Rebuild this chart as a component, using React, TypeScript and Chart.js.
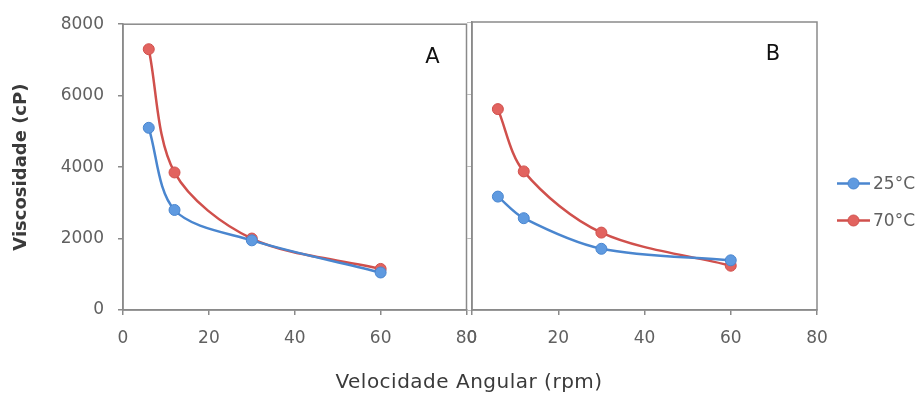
import React, { useEffect, useRef } from "react";
import { Chart, registerables } from "chart.js";

Chart.register(...registerables);

const rpm = [6, 12, 30, 60];
const seriesLabels = ["25°C", "70°C"];
const panelA25 = [5100, 2800, 1950, 1050];
const panelA70 = [7300, 3850, 2000, 1150];
const panelB25 = [3150, 2550, 1700, 1380];
const panelB70 = [5580, 3850, 2150, 1230];
const xTicks = [0, 20, 40, 60, 80];
const yTicks = [0, 2000, 4000, 6000, 8000];
const panelNames = ["A", "B"];

const FONT = "'DejaVu Sans', sans-serif";
const AXIS = "#8a8a8a";
const TICKTXT = "#606060";
const BLUE = "#4a86cf";
const BLUE_FILL = "#5f9ae0";
const RED = "#d0504c";
const RED_FILL = "#e2635f";

const W = 920;
const H = 396;

const makeDatasets = (v25: number[], v70: number[]) => [
  {
    label: seriesLabels[0],
    data: rpm.map((x, i) => ({ x, y: v25[i] })),
    borderColor: BLUE,
    backgroundColor: BLUE_FILL,
    pointBackgroundColor: BLUE_FILL,
    pointBorderColor: BLUE,
    pointBorderWidth: 1,
    pointRadius: 5.5,
    borderWidth: 2.5,
    tension: 0.32,
    showLine: true,
  },
  {
    label: seriesLabels[1],
    data: rpm.map((x, i) => ({ x, y: v70[i] })),
    borderColor: RED,
    backgroundColor: RED_FILL,
    pointBackgroundColor: RED_FILL,
    pointBorderColor: RED,
    pointBorderWidth: 1,
    pointRadius: 5.5,
    borderWidth: 2.5,
    tension: 0.32,
    showLine: true,
  },
];

const framePlugin = (letter: string, dx: number) => ({
  id: "frame" + letter,
  afterDraw(chart: any) {
    const { ctx, chartArea: a } = chart;
    ctx.save();
    ctx.strokeStyle = AXIS;
    ctx.lineWidth = 1.5;
    ctx.strokeRect(a.left, a.top, a.right - a.left, a.bottom - a.top);
    ctx.fillStyle = "#111";
    ctx.font = `21px ${FONT}`;
    ctx.textAlign = "center";
    ctx.textBaseline = "middle";
    ctx.fillText(letter, a.right - dx, a.top + 33);
    ctx.restore();
  },
});

const legendPlugin = {
  id: "sideLegend",
  afterDraw(chart: any) {
    const { ctx, chartArea: a } = chart;
    const x0 = a.right + 20;
    const midY = (a.top + a.bottom) / 2 + 36;
    ctx.save();
    chart.data.datasets.forEach((ds: any, i: number) => {
      const y = midY + (i - 0.5) * 37;
      ctx.strokeStyle = ds.borderColor;
      ctx.lineWidth = 2.5;
      ctx.beginPath();
      ctx.moveTo(x0, y);
      ctx.lineTo(x0 + 33, y);
      ctx.stroke();
      ctx.beginPath();
      ctx.arc(x0 + 16.5, y, 5.5, 0, Math.PI * 2);
      ctx.fillStyle = ds.pointBackgroundColor;
      ctx.fill();
      ctx.lineWidth = 1;
      ctx.strokeStyle = ds.pointBorderColor;
      ctx.stroke();
      ctx.fillStyle = TICKTXT;
      ctx.font = `17px ${FONT}`;
      ctx.textAlign = "left";
      ctx.textBaseline = "middle";
      ctx.fillText(ds.label, x0 + 36, y + 1);
    });
    ctx.restore();
  },
};

const plainNum = (v: any) => String(v);

const xScale = () => ({
  type: "linear",
  min: 0,
  max: 80,
  afterBuildTicks: (s: any) => {
    s.ticks = xTicks.map((v) => ({ value: v }));
  },
  ticks: { color: TICKTXT, font: { family: FONT, size: 17 }, padding: 13, callback: plainNum },
  grid: { display: true, drawOnChartArea: false, drawTicks: true, tickLength: 5, color: AXIS, lineWidth: 1.5 },
  border: { display: true, color: AXIS, width: 1.5 },
  afterFit: (s: any) => {
    s.height = H - 310;
  },
});

export default function App() {
  const refA = useRef<HTMLCanvasElement>(null);
  const refB = useRef<HTMLCanvasElement>(null);

  useEffect(() => {
    const chartA = new Chart(refA.current as HTMLCanvasElement, {
      type: "scatter",
      data: { datasets: makeDatasets(panelA25, panelA70) as any },
      options: {
        animation: false,
        responsive: false,
        maintainAspectRatio: false,
        layout: { padding: { left: 0, top: 22, right: W - 466.5, bottom: 0 } },
        plugins: { legend: { display: false }, tooltip: { enabled: false } },
        scales: {
          x: xScale() as any,
          y: {
            type: "linear",
            min: 0,
            max: 8000,
            afterBuildTicks: (s: any) => {
              s.ticks = yTicks.map((v) => ({ value: v }));
            },
            ticks: { color: TICKTXT, font: { family: FONT, size: 17 }, padding: 14, callback: plainNum },
            grid: { display: true, drawOnChartArea: false, drawTicks: true, tickLength: 5, color: AXIS, lineWidth: 1.5 },
            border: { display: true, color: AXIS, width: 1.5 },
            title: {
              display: true,
              text: "Viscosidade (cP)",
              color: "#3a3a3a",
              font: { family: FONT, size: 18, weight: "bold" },
              padding: { top: 11, bottom: 0 },
            },
            afterFit: (s: any) => {
              s.width = 123;
            },
          } as any,
        },
      },
      plugins: [framePlugin(panelNames[0], 34)],
    });

    const chartB = new Chart(refB.current as HTMLCanvasElement, {
      type: "scatter",
      data: { datasets: makeDatasets(panelB25, panelB70) as any },
      options: {
        animation: false,
        responsive: false,
        maintainAspectRatio: false,
        layout: { padding: { left: 466, top: 22, right: W - 817, bottom: 0 } },
        plugins: { legend: { display: false }, tooltip: { enabled: false } },
        scales: {
          x: xScale() as any,
          y: {
            type: "linear",
            min: 0,
            max: 8000,
            afterBuildTicks: (s: any) => {
              s.ticks = yTicks.map((v) => ({ value: v }));
            },
            ticks: { display: false },
            grid: { display: true, drawOnChartArea: false, drawTicks: true, tickLength: 5, color: "#bdbdbd", lineWidth: 1 },
            border: { display: true, color: AXIS, width: 1.5 },
            afterFit: (s: any) => {
              s.width = 6;
            },
          } as any,
        },
      },
      plugins: [framePlugin(panelNames[1], 44), legendPlugin],
    });

    return () => {
      chartA.destroy();
      chartB.destroy();
    };
  }, []);

  return (
    <div style={{ position: "fixed", left: 0, top: 0, width: W, height: H, background: "#fff" }}>
      <canvas ref={refA} width={W} height={H} style={{ position: "absolute", left: 0, top: 0, width: W, height: H }} />
      <canvas ref={refB} width={W} height={H} style={{ position: "absolute", left: 0, top: 0, width: W, height: H }} />
      <div
        style={{
          position: "absolute",
          left: 0,
          width: 938,
          top: 369,
          textAlign: "center",
          fontFamily: FONT,
          fontSize: 20,
          color: "#3a3a3a",
          letterSpacing: 0.5,
        }}
      >
        Velocidade Angular (rpm)
      </div>
    </div>
  );
}
